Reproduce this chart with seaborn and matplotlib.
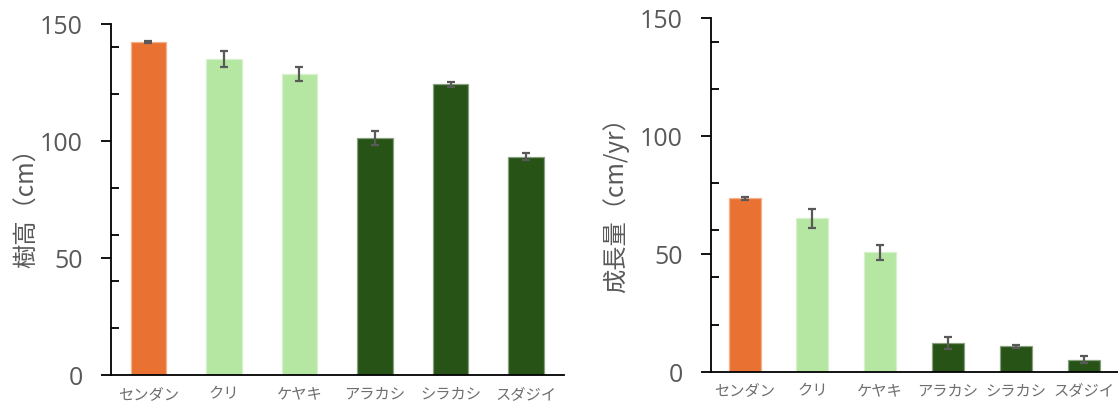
import numpy as np
import pandas as pd
import matplotlib
matplotlib.use("Agg")
import matplotlib.pyplot as plt
import matplotlib.colors as mcolors
from matplotlib.ticker import FixedLocator, MultipleLocator
import seaborn as sns

# Tree species and their colours
species = ["センダン", "クリ", "ケヤキ", "アラカシ", "シラカシ", "スダジイ"]
bar_colors = ["#E97132", "#B5E6A2", "#B5E6A2", "#275317", "#275317", "#275317"]

# Tree height (cm) with standard errors
height_mean = [142.2, 135.0, 128.5, 101.1, 124.2, 93.3]
height_err = [0.5, 3.5, 3.0, 3.0, 1.1, 1.4]

# Growth rate (cm/yr) with standard errors
growth_mean = [73.5, 65.0, 50.6, 12.2, 10.8, 5.1]
growth_err = [0.6, 4.0, 3.1, 2.4, 0.6, 1.4]

y_major = [0, 50, 100, 150]

sns.set_theme(style="white")
plt.rcParams["font.family"] = ["Open Sans", "Noto Sans CJK JP", "DejaVu Sans"]
JP = ["Noto Sans CJK JP", "DejaVu Sans"]
TEXT_GRAY = "#595959"

fig = plt.figure(figsize=(11.18, 4.10), dpi=100)
W, H = 1118, 410


def axes_px(x0, x1, y_top, y_bottom):
    return fig.add_axes([x0 / W, 1 - y_bottom / H, (x1 - x0) / W, (y_bottom - y_top) / H])


ax1 = axes_px(110.5, 564, 25, 376)
ax2 = axes_px(710.7, 1117.5, 19, 372.7)


def draw_panel(ax, means, errs, ylabel, label_x_px, label_y_px):
    df = pd.DataFrame({"species": species, "value": means})
    sns.barplot(data=df, x="species", y="value", hue="species",
                palette=bar_colors, legend=False, width=0.47, ax=ax,
                saturation=1)
    for patch, c in zip(ax.patches, bar_colors):
        rgb = np.array(mcolors.to_rgb(c))
        patch.set_edgecolor(tuple(rgb + (1 - rgb) * 0.45))
        patch.set_linewidth(0.9)
    ax.errorbar(np.arange(len(species)), means, yerr=errs, fmt="none",
                ecolor="#595959", elinewidth=1.6, capsize=3.0, capthick=1.6,
                zorder=5)

    ax.set_xlim(-0.5, len(species) - 0.5)
    ax.set_ylim(0, 150)
    ax.yaxis.set_major_locator(FixedLocator(y_major))
    ax.yaxis.set_minor_locator(MultipleLocator(20))

    for side in ("top", "right"):
        ax.spines[side].set_visible(False)
    for side in ("left", "bottom"):
        ax.spines[side].set_color("black")
        ax.spines[side].set_linewidth(1.3)

    ax.tick_params(axis="y", which="major", direction="out", length=7,
                   width=1.3, color="black", pad=13, labelsize=18,
                   labelcolor=TEXT_GRAY, left=True)
    ax.tick_params(axis="y", which="minor", direction="in", length=5.5,
                   width=1.3, color="black", left=True)
    ax.tick_params(axis="x", length=0, pad=7)
    ax.set_xticks(range(len(species)))
    ax.set_xticklabels(species, family=JP, fontsize=11, color="#6E6E6E")
    ax.set_xlabel("")
    ax.set_ylabel("")
    ax.grid(False)

    fig.text(label_x_px / W, 1 - label_y_px / H, ylabel, rotation=90,
             ha="center", va="center", fontsize=17.5, color=TEXT_GRAY,
             family=JP)


draw_panel(ax1, height_mean, height_err, "樹高（cm）", 27, 202)
draw_panel(ax2, growth_mean, growth_err, "成長量（cm/yr）", 616, 199)

fig.savefig("out.png", dpi=100)
